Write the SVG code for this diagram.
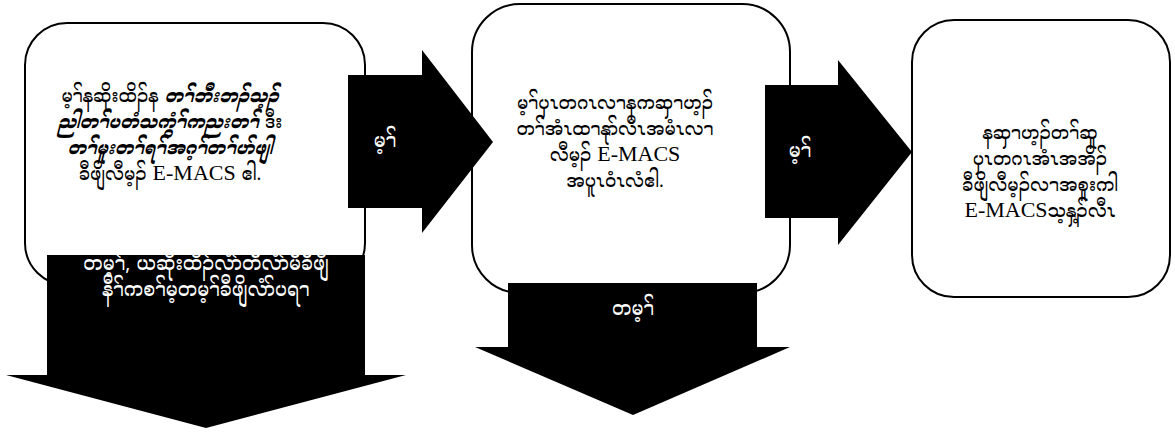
<svg xmlns="http://www.w3.org/2000/svg" width="1175" height="438" viewBox="0 0 1175 438">
<style>
.box{fill:#fff;stroke:#000;stroke-width:2}
.arr{fill:#000;stroke:none}
.t{font-family:"Noto Serif Myanmar","Noto Sans Myanmar","Myanmar Text","Padauk","Liberation Serif",serif;font-size:18px;fill:#000;text-anchor:middle}
.w{font-family:"Noto Serif Myanmar","Noto Sans Myanmar","Myanmar Text","Padauk","Liberation Sans",sans-serif;font-size:19px;fill:#fff;text-anchor:middle}
.lat{font-family:"Liberation Serif","Times New Roman",serif;font-size:22px}
.bi{font-weight:bold;font-style:italic}
</style>
<rect width="1175" height="438" fill="#fff"/>
<g id="node1">
<rect class="box" x="25" y="23" width="340" height="262" rx="42"/>
<text class="t" x="170" y="102">မ့ၢ်နဆိုးထိၣ်န <tspan class="bi">တၢ်ဘီးဘၣ်သ့ၣ်</tspan></text>
<text class="t" x="170" y="128"><tspan class="bi">ညါတၢ်ပတံသကွံၢ်ကညးတၢ်</tspan> ဒီး</text>
<text class="t bi" x="170" y="154">တၢ်မူးတၢ်ရၢ်အဂ့ၢ်တၢ်ပာ်ဖျါ</text>
<text class="t" x="170" y="180">ခီဖျိလီမ့ၣ် <tspan class="lat">E-MACS</tspan> ဧါ.</text>
</g>
<g id="node2">
<rect class="box" x="472" y="4" width="318" height="289" rx="48"/>
<text class="t" x="615" y="109">မ့ၢ်ပှၤတဂၤလၢနကဆှၢဟ့ၣ်</text>
<text class="t" x="615" y="135">တၢ်အံၤထၢနုာ်လီၤအမံၤလၢ</text>
<text class="t" x="615" y="161">လီမ့ၣ် <tspan class="lat">E-MACS</tspan></text>
<text class="t" x="615" y="187">အပူၤဝံၤလံဧါ.</text>
</g>
<g id="node3">
<rect class="box" x="912" y="20" width="258" height="277" rx="42"/>
<text class="t" x="1040" y="139">နဆှၢဟ့ၣ်တၢ်ဆူ</text>
<text class="t" x="1040" y="165">ပှၤတဂၤအံၤအအိၣ်</text>
<text class="t" x="1040" y="191">ခီဖျိလီမ့ၣ်လၢအစူးကါ</text>
<text class="t" x="1040" y="217"><tspan class="lat">E-MACS</tspan>သ့နှ့ၣ်လီၤ</text>
</g>
<g id="connectors">
<g id="arrow1">
<polygon class="arr" points="348,75 422,75 422,50 493,142 422,233 422,208 348,208"/>
<text class="w" x="385" y="147">မ့ၢ်</text>
</g>
<g id="arrow2">
<polygon class="arr" points="765,85 838,85 838,60 912,152 838,245 838,218 765,218"/>
<text class="w" x="800" y="157">မ့ၢ်</text>
</g>
<g id="down1">
<polygon class="arr" points="47,255 365,255 365,375 406,375 206,428 6,375 47,375"/>
<text class="w" x="206" y="270">တမ့ၢ်, ယဆိုးထိၣ်လံာ်တီလံာ်မီခီဖျိ</text>
<text class="w" x="206" y="296">နီၢ်ကစၢ်မ့တမ့ၢ်ခီဖျိလံာ်ပရၢ</text>
</g>
<g id="down2">
<polygon class="arr" points="508,283 757,283 757,347 790,347 633,415 475,347 508,347"/>
<text class="w" x="633" y="315">တမ့ၢ်</text>
</g>
</g>
</svg>
